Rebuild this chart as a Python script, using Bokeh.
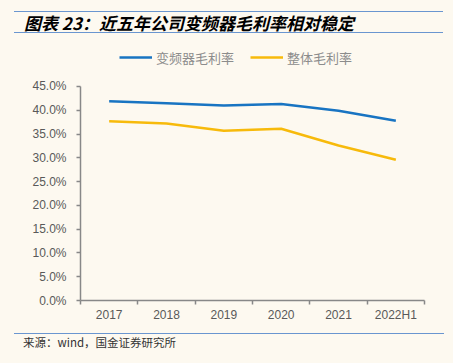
from bokeh.plotting import figure
from bokeh.layouts import column
from bokeh.models import (Range1d, LinearAxis, FixedTicker, Div,
                          NumeralTickFormatter, Legend, LegendItem)
from bokeh.embed import file_html
from bokeh.resources import INLINE

categories = ["2017", "2018", "2019", "2020", "2021", "2022H1"]
inverter_margin = [0.419, 0.415, 0.410, 0.413, 0.399, 0.378]
overall_margin = [0.377, 0.372, 0.357, 0.361, 0.326, 0.296]
y_ticks = [0.0, 0.05, 0.10, 0.15, 0.20, 0.25, 0.30, 0.35, 0.40, 0.45]
series_names = ["变频器毛利率", "整体毛利率"]
title_text = "图表 23：近五年公司变频器毛利率相对稳定"
source_text = "来源：wind，国金证券研究所"

BG = "#FDF9F0"
RULE = "#6A96D0"
W = 453
TITLE_H, FIG_H, SRC_H = 47, 279, 37
CJK = "Noto Sans CJK SC"

n = len(categories)
xs = list(range(n))

# ---- title block ----
title_html = (
    f'<div style="padding-top:11px;margin:0;width:{W}px;">'
    f'<div style="margin-left:14px;width:429px;border-top:1.5px solid {RULE};border-bottom:1.5px solid {RULE};'
    f'height:22px;line-height:22px;padding-left:10px;white-space:nowrap;'
    f"font-family:'{CJK}';font-size:17px;font-weight:bold;font-style:italic;color:#000000;\">"
    f'{title_text}</div></div>'
)
title_div = Div(text=title_html, width=W, height=TITLE_H, margin=0,
                styles={"background-color": BG, "margin": "0", "padding": "0"})

# ---- chart ----
# frame extends above the 45% tick so that the legend sits inside it
p = figure(width=W, height=FIG_H, x_range=Range1d(-0.5, n - 0.5), y_range=Range1d(0, 0.532),
           output_backend="svg", toolbar_location=None, x_axis_location=None,
           background_fill_color=BG, border_fill_color=BG, margin=0,
           min_border_left=80, min_border_right=29, min_border_top=0, min_border_bottom=26)
p.outline_line_color = None
p.xgrid.grid_line_color = None
p.ygrid.grid_line_color = None

ya = p.yaxis[0]
ya.ticker = FixedTicker(ticks=y_ticks)
ya.bounds = (0, 0.45)
ya.formatter = NumeralTickFormatter(format="0.0%")
ya.axis_line_color = "#888888"
ya.axis_line_width = 1.5
ya.major_tick_line_color = "#888888"
ya.major_tick_line_width = 1.5
ya.major_tick_in = 0
ya.major_tick_out = 4
ya.minor_tick_line_color = None
ya.major_label_standoff = 10
ya.major_label_text_color = "#595959"
ya.major_label_text_font = "Liberation Sans"
ya.major_label_text_font_size = "12px"

tick_axis = LinearAxis(ticker=FixedTicker(ticks=[i - 0.5 for i in range(n + 1)]),
                       axis_line_color="#888888", axis_line_width=1.5,
                       major_tick_line_color="#888888", major_tick_line_width=1.5,
                       major_tick_in=0, major_tick_out=4, minor_tick_line_color=None,
                       major_label_text_font_size="1px", major_label_text_color=None,
                       major_label_standoff=0)
p.add_layout(tick_axis, "below")
label_axis = LinearAxis(ticker=FixedTicker(ticks=xs),
                        major_label_overrides={i: c for i, c in enumerate(categories)},
                        axis_line_color=None, major_tick_line_color=None, minor_tick_line_color=None,
                        major_tick_in=0, major_tick_out=0,
                        major_label_text_color="#595959", major_label_text_font="Liberation Sans",
                        major_label_text_font_size="12px", major_label_standoff=3)
p.add_layout(label_axis, "below")

r1 = p.line(xs, inverter_margin, line_color="#1874C2", line_width=2.5)
r2 = p.line(xs, overall_margin, line_color="#F7BA0B", line_width=2.5)

legend = Legend(items=[LegendItem(label=series_names[0], renderers=[r1]),
                       LegendItem(label=series_names[1], renderers=[r2])],
                orientation="horizontal", location=(39, 233), padding=0, margin=0,
                glyph_width=33, glyph_height=20, label_standoff=4, spacing=16,
                label_text_font=CJK, label_text_font_size="13px", label_text_color="#8C8C8C",
                background_fill_alpha=0, border_line_color=None)
p.add_layout(legend, "center")

# ---- source block ----
src_html = (
    f'<div style="padding-top:7px;margin:0;width:{W}px;">'
    f'<div style="margin-left:14px;width:430px;border-top:1.5px solid {RULE};padding-left:9px;padding-top:1px;'
    f"line-height:15px;white-space:nowrap;font-family:'{CJK}';font-size:11.5px;color:#333333;\">"
    f'{source_text}</div></div>'
)
src_div = Div(text=src_html, width=W, height=SRC_H, margin=0,
              styles={"background-color": BG, "margin": "0", "padding": "0"})

layout = column(title_div, p, src_div, spacing=0, margin=0,
                styles={"background-color": BG})

html = file_html(layout, INLINE)
open("out.html", "w").write(html)
